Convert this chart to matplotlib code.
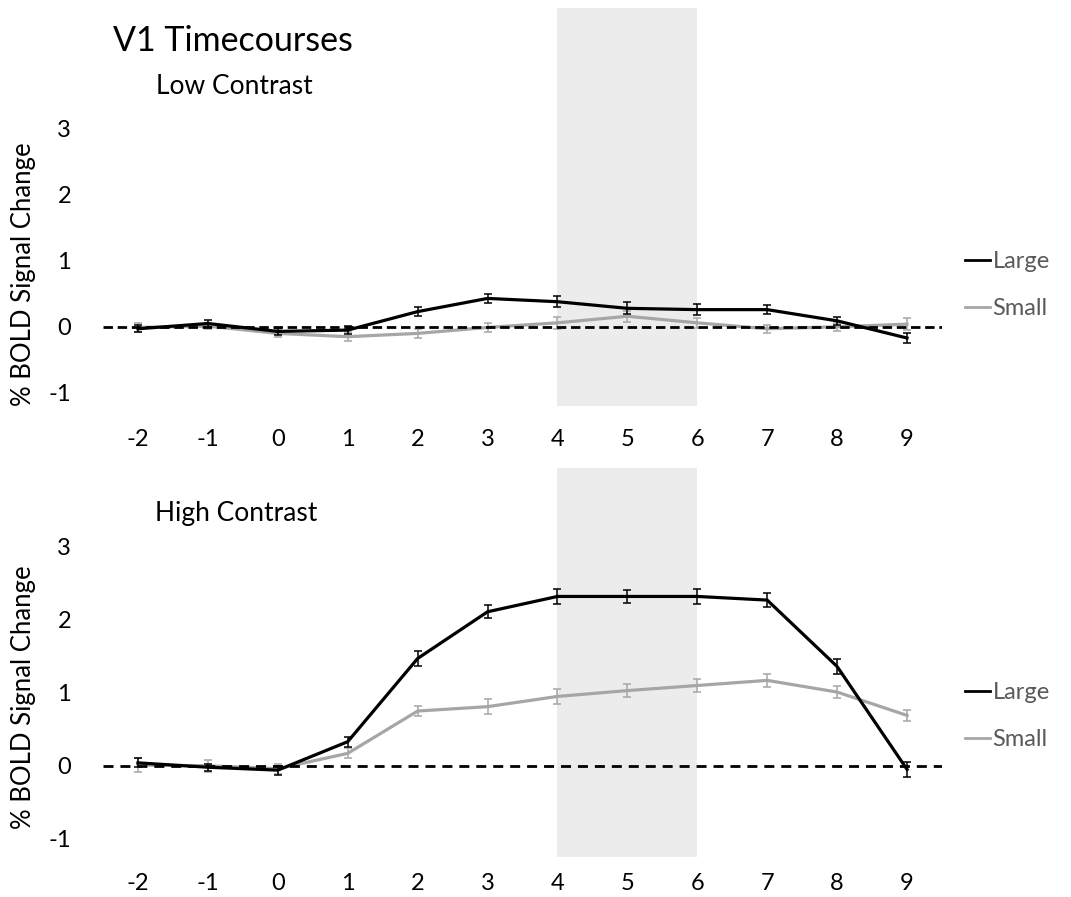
import matplotlib
matplotlib.use("Agg")
import matplotlib.pyplot as plt
from matplotlib.lines import Line2D

plt.rcParams['font.family'] = ['Lato', 'DejaVu Sans']

# ---- data ----
timepoints = [-2, -1, 0, 1, 2, 3, 4, 5, 6, 7, 8, 9]
xtick_labels = ['-2', '-1', '0', '1', '2', '3', '4', '5', '6', '7', '8', '9']
ytick_values = [-1, 0, 1, 2, 3]

low_large = [-0.03, 0.05, -0.07, -0.05, 0.23, 0.43, 0.38, 0.28, 0.26, 0.26, 0.09, -0.17]
low_large_err = [0.05, 0.05, 0.05, 0.06, 0.07, 0.07, 0.08, 0.09, 0.08, 0.07, 0.06, 0.07]
low_small = [-0.01, 0.01, -0.10, -0.15, -0.10, -0.01, 0.06, 0.16, 0.06, -0.03, 0.00, 0.04]
low_small_err = [0.07, 0.05, 0.05, 0.07, 0.07, 0.07, 0.09, 0.08, 0.08, 0.06, 0.06, 0.09]

high_large = [0.04, -0.02, -0.06, 0.33, 1.47, 2.11, 2.32, 2.32, 2.32, 2.27, 1.36, -0.05]
high_large_err = [0.06, 0.05, 0.06, 0.07, 0.10, 0.09, 0.10, 0.09, 0.10, 0.10, 0.10, 0.10]
high_small = [0.01, 0.00, -0.04, 0.17, 0.75, 0.81, 0.95, 1.03, 1.10, 1.17, 1.01, 0.69]
high_small_err = [0.09, 0.08, 0.07, 0.07, 0.07, 0.10, 0.10, 0.09, 0.09, 0.09, 0.08, 0.08]

stim_window = (4, 6)
series_names = ['Large', 'Small']

# ---- style ----
W, H = 1071, 897
LARGE_C = '#000000'
SMALL_C = '#A6A6A6'
SHADE_C = '#ECECEC'
LEG_C = '#595959'
FS = 17

fig = plt.figure(figsize=(W / 100, H / 100), dpi=100)

left = 103 / W
width = (942 - 103) / W
ax1 = fig.add_axes([left, 1 - 406 / H, width, 398 / H])
ax2 = fig.add_axes([left, 1 - 857 / H, width, 389 / H])


def draw(ax, large, large_err, small, small_err, ylim, dashes, xpad):
    ax.axvspan(stim_window[0], stim_window[1], color=SHADE_C, zorder=0, lw=0)
    ax.errorbar(timepoints, small, yerr=small_err, color=SMALL_C, lw=2.3,
                elinewidth=1.1, capsize=2.6, capthick=1.1, zorder=2)
    ax.axhline(0, color='black', lw=2.0, dashes=dashes, zorder=3)
    ax.errorbar(timepoints, large, yerr=large_err, color=LARGE_C, lw=2.3,
                elinewidth=1.1, capsize=2.6, capthick=1.1, zorder=4)
    ax.set_xlim(-2.5, 9.5)
    ax.set_ylim(*ylim)
    ax.set_xticks(timepoints)
    ax.set_xticklabels(xtick_labels)
    ax.set_yticks(ytick_values)
    ax.set_yticklabels([str(v) for v in ytick_values])
    for s in ax.spines.values():
        s.set_visible(False)
    ax.tick_params(axis='both', length=0, labelsize=FS, colors='black')
    ax.tick_params(axis='y', pad=23)
    ax.tick_params(axis='x', pad=xpad)
    ax.set_ylabel('% BOLD Signal Change', fontsize=18.5)
    ax.patch.set_visible(False)


draw(ax1, low_large, low_large_err, low_small, low_small_err,
     (-1.2, 4.83), (3.4, 1.7), 16.5)
draw(ax2, high_large, high_large_err, high_small, high_small_err,
     (-1.25, 4.08), (3.6, 2.5), 11.5)

# y-label positions (right edge of rotated label at x ~ 36 px)
ax1.yaxis.set_label_coords((36 - 103) / (942 - 103), (406 - 274) / 398)
ax2.yaxis.set_label_coords((36 - 103) / (942 - 103), (857 - 697) / 389)

fig.text(233 / W, 1 - 41 / H, 'V1 Timecourses', fontsize=24.5, ha='center', va='center')
fig.text(234 / W, 1 - 87 / H, 'Low Contrast', fontsize=19, ha='center', va='center')
fig.text(236 / W, 1 - 513 / H, 'High Contrast', fontsize=19, ha='center', va='center')

handles = [Line2D([], [], color=LARGE_C, lw=2.0), Line2D([], [], color=SMALL_C, lw=2.0)]
for ax, yc in ((ax1, 285), (ax2, 716)):
    ax.legend(handles, series_names, loc='center left',
              bbox_to_anchor=(965 / W, 1 - yc / H), bbox_transform=fig.transFigure,
              frameon=False, fontsize=FS, labelcolor=LEG_C, handlelength=1.05,
              handletextpad=0.12, labelspacing=1.1, borderpad=0, borderaxespad=0)

fig.savefig('out.png', dpi=100)
